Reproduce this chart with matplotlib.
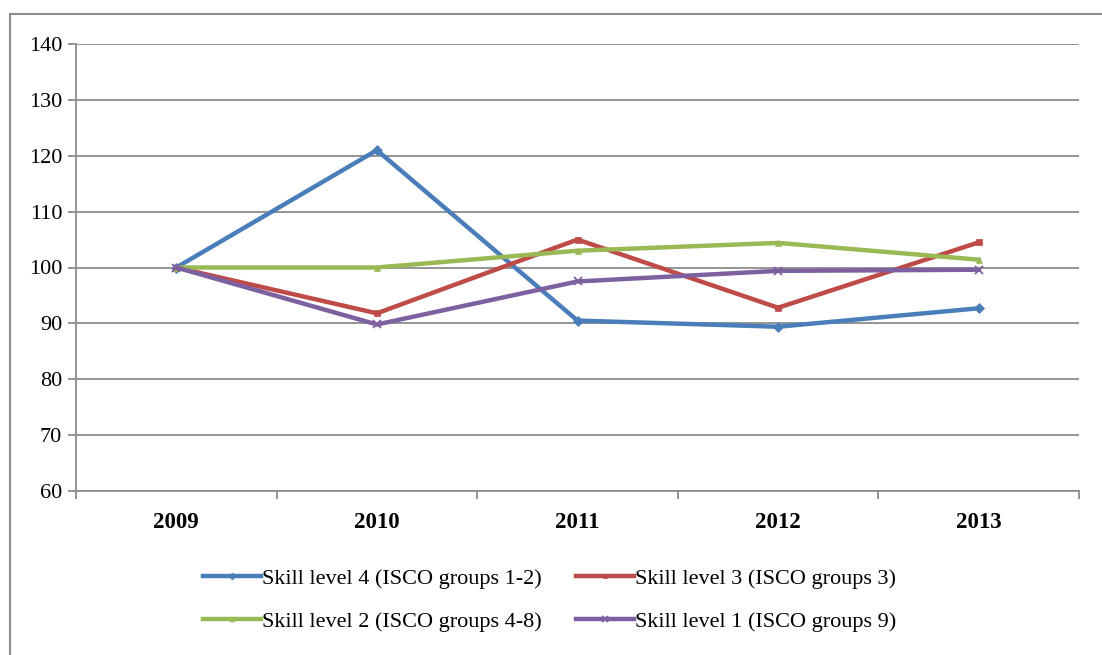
import matplotlib.pyplot as plt
from matplotlib.patches import Rectangle

years = ['2009', '2010', '2011', '2012', '2013']
skill4 = [100, 121, 90.5, 89.4, 92.7]
skill3 = [100, 91.8, 105, 92.8, 104.5]
skill2 = [100, 100, 103, 104.4, 101.4]
skill1 = [100, 89.8, 97.5, 99.4, 99.6]

series = [
    ('Skill level 4 (ISCO groups 1-2)', skill4, '#4a7ebb', 'D'),
    ('Skill level 3 (ISCO groups 3)', skill3, '#be4b48', 's'),
    ('Skill level 2 (ISCO groups 4-8)', skill2, '#98b954', '^'),
    ('Skill level 1 (ISCO groups 9)', skill1, '#7d60a0', 'x'),
]

plt.rcParams['font.family'] = ['Liberation Serif', 'DejaVu Serif']

fig = plt.figure(figsize=(11.02, 6.55), dpi=100)
fig.patch.set_facecolor('white')

# chart frame around everything
fig.add_artist(Rectangle((10 / 1102, -0.05), 1.1, (655 - 14) / 655 + 0.05,
                         transform=fig.transFigure, fill=False,
                         edgecolor='#8c8c8c', linewidth=1.5))

ax = fig.add_axes([76 / 1102, 1 - 491 / 655, (1079 - 76) / 1102, (491 - 44) / 655])
x = list(range(len(years)))
for label, vals, color, marker in series:
    ms = 5 if marker != 'x' else 6
    ax.plot(x, vals, color=color, linewidth=3.2, marker=marker, markersize=ms,
            markeredgewidth=1.3 if marker == 'x' else 0.5, label=label,
            solid_joinstyle='miter')

ax.set_xlim(-0.5, 4.5)
ax.set_ylim(60, 140)
ax.set_yticks(range(60, 141, 10))
ax.yaxis.grid(True, color='#8c8c8c', linewidth=1.3)
ax.set_axisbelow(True)

ax.set_xticks(x)
ax.set_xticklabels(years, fontsize=16.5, fontweight='bold')
ax.set_xticks([i - 0.5 for i in range(len(years) + 1)], minor=True)
ax.tick_params(axis='x', which='major', length=0, pad=15)
ax.tick_params(axis='x', which='minor', length=6, width=1.3, color='#8c8c8c')
ax.tick_params(axis='y', length=6, width=1.3, color='#8c8c8c', labelsize=16, pad=4)

for s in ['top', 'right']:
    ax.spines[s].set_visible(False)
for s in ['left', 'bottom']:
    ax.spines[s].set_color('#8c8c8c')
    ax.spines[s].set_linewidth(1.3)

# legend fills column-wise, so order handles for rows: 4,3 / 2,1
handles, labels = ax.get_legend_handles_labels()
order = [0, 2, 1, 3]
leg = fig.legend([handles[i] for i in order], [labels[i] for i in order],
                 loc='center', ncol=2,
                 bbox_to_anchor=(0.499, 1 - 600 / 655), frameon=False,
                 fontsize=16, handlelength=2.6, handletextpad=0.05,
                 columnspacing=1.55, labelspacing=1.0, markerscale=0.7)

fig.savefig('out.png', dpi=100)
